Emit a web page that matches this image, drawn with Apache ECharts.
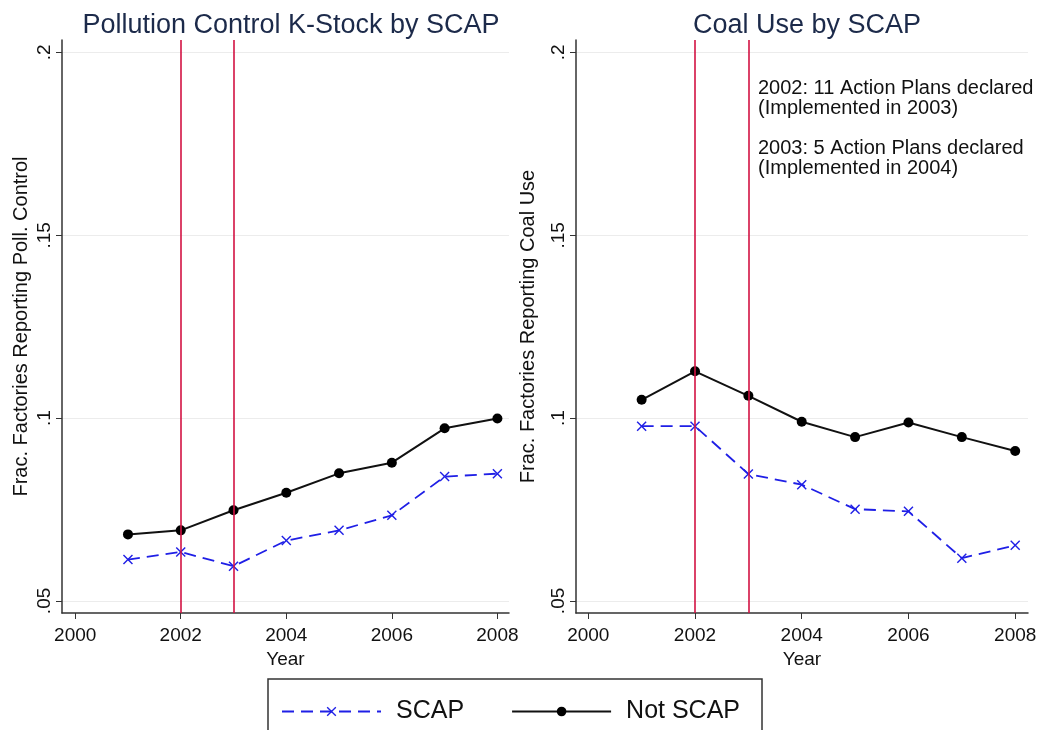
<!DOCTYPE html>
<html>
<head>
<meta charset="utf-8">
<script src="https://cdn.jsdelivr.net/npm/echarts@6/dist/echarts.min.js"></script>
<style>
  html, body { margin: 0; padding: 0; background: #fff; }
  #chart { width: 1042px; height: 730px; }
</style>
</head>
<body>
<div id="chart"></div>
<script>
const years = [2001, 2002, 2003, 2004, 2005, 2006, 2007, 2008];
const eventYears = [2002, 2003];
const xTicks = [2000, 2002, 2004, 2006, 2008];
const yTicks = [0.05, 0.1, 0.15, 0.2];

// Pollution control K-stock
const pollScap = [0.0613, 0.0634, 0.0595, 0.0665, 0.0693, 0.0734, 0.0840, 0.0848];
const pollNotScap = [0.0682, 0.0693, 0.0748, 0.0796, 0.0849, 0.0878, 0.0972, 0.0999];

// Coal use
const coalScap = [0.0978, 0.0978, 0.0847, 0.0818, 0.0751, 0.0745, 0.0617, 0.0652];
const coalNotScap = [0.1050, 0.1128, 0.1061, 0.0990, 0.0948, 0.0988, 0.0948, 0.0910];

const notes = [
  "2002: 11 Action Plans declared",
  "(Implemented in 2003)",
  "2003: 5 Action Plans declared",
  "(Implemented in 2004)",
];

const font = "Liberation Sans";
const blue = "#1f1fe6";
const red = "#d21243";
const xMark = "path://M1,0 L5,4 L9,0 L10,1 L6,5 L10,9 L9,10 L5,6 L1,10 L0,9 L4,5 L0,1 Z";

const pairs = (ys) => years.map((y, i) => [y, ys[i]]);

function xAxis(idx, min, max) {
  return {
    type: "value",
    gridIndex: idx,
    min: min,
    max: max,
    name: "Year",
    nameLocation: "middle",
    nameGap: 35,
    nameTextStyle: { fontFamily: font, fontSize: 19, color: "#111" },
    axisLine: { lineStyle: { color: "#333", width: 1.5 } },
    axisTick: { length: 6, lineStyle: { color: "#333" }, customValues: xTicks },
    axisLabel: {
      fontFamily: font, fontSize: 19, color: "#111", margin: 13,
      customValues: xTicks, formatter: (v) => String(v),
    },
    splitLine: { show: false },
  };
}

function yAxis(idx, title, gap) {
  return {
    type: "value",
    gridIndex: idx,
    min: 0.0467,
    max: 0.2034,
    name: title,
    nameLocation: "middle",
    nameGap: gap,
    nameTextStyle: { fontFamily: font, fontSize: 20, color: "#111" },
    axisLine: { show: true, lineStyle: { color: "#333", width: 1.5 } },
    axisTick: { show: true, length: 6, lineStyle: { color: "#333" }, customValues: yTicks },
    axisLabel: {
      rotate: 90, fontFamily: font, fontSize: 19, color: "#111", margin: 8,
      customValues: yTicks,
      formatter: (v) => String(+v.toFixed(2)).replace(/^0/, ""),
    },
    splitLine: { show: true, lineStyle: { color: "#ececec", width: 1 } },
  };
}

function scapSeries(idx, data) {
  return {
    name: "SCAP",
    type: "line",
    xAxisIndex: idx,
    yAxisIndex: idx,
    data: pairs(data),
    symbol: xMark,
    symbolSize: 10,
    itemStyle: { color: blue },
    lineStyle: { color: blue, width: 1.8, type: [12, 7] },
    z: 3,
  };
}

function notScapSeries(idx, data) {
  return {
    name: "Not SCAP",
    type: "line",
    xAxisIndex: idx,
    yAxisIndex: idx,
    data: pairs(data),
    symbol: "circle",
    symbolSize: 10,
    itemStyle: { color: "#000" },
    lineStyle: { color: "#111", width: 2 },
    z: 3,
    markLine: {
      silent: true,
      symbol: "none",
      label: { show: false },
      lineStyle: { color: red, width: 1.6, type: "solid" },
      data: eventYears.map((y) => ({ xAxis: y })),
    },
  };
}

const chart = echarts.init(document.getElementById("chart"));
chart.setOption({
  animation: false,
  backgroundColor: "#fff",
  title: [
    {
      text: "Pollution Control K-Stock by SCAP",
      left: 286, top: 7, textAlign: "center",
      textStyle: { fontFamily: font, fontSize: 27, fontWeight: "normal", color: "#1c2a4a" },
    },
    {
      text: "Coal Use by SCAP",
      left: 802, top: 7, textAlign: "center",
      textStyle: { fontFamily: font, fontSize: 27, fontWeight: "normal", color: "#1c2a4a" },
    },
  ],
  legend: {
    left: 268,
    top: 679,
    data: ["SCAP", "Not SCAP"],
    itemWidth: 99,
    itemHeight: 12,
    itemGap: 47,
    padding: [20, 22, 20, 13],
    borderColor: "#333",
    borderWidth: 1.5,
    borderRadius: 0,
    textStyle: { fontFamily: font, fontSize: 25, color: "#111", padding: [0, 0, 0, 10] },
  },
  grid: [
    { left: 62, top: 40, width: 447, height: 573 },
    { left: 576, top: 40, width: 452, height: 573 },
  ],
  xAxis: [xAxis(0, 1999.75, 2008.22), xAxis(1, 1999.77, 2008.24)],
  yAxis: [
    yAxis(0, "Frac. Factories Reporting Poll. Control", 31),
    yAxis(1, "Frac. Factories Reporting Coal Use", 38),
  ],
  graphic: notes.map((t, i) => ({
    type: "text",
    left: 758,
    top: [78, 98, 138, 158][i],
    style: { text: t, font: "20px " + font, fill: "#111" },
  })),
  series: [
    scapSeries(0, pollScap),
    notScapSeries(0, pollNotScap),
    scapSeries(1, coalScap),
    notScapSeries(1, coalNotScap),
  ],
});
</script>
</body>
</html>
